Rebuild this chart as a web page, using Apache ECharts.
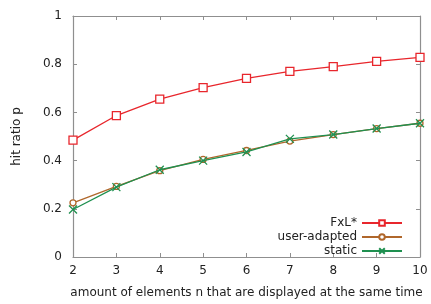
<!DOCTYPE html>
<html><head><meta charset="utf-8">
<script src="https://cdn.jsdelivr.net/npm/echarts@6/dist/echarts.min.js"></script>
<style>html,body{margin:0;padding:0;background:#fff}#c{width:431px;height:304px}</style>
</head><body><div id="c"></div>
<script>
const xValues = [2, 3, 4, 5, 6, 7, 8, 9, 10];
const fxl = [0.485, 0.587, 0.655, 0.703, 0.741, 0.770, 0.790, 0.812, 0.828];
const userAdapted = [0.225, 0.293, 0.358, 0.405, 0.442, 0.481, 0.508, 0.533, 0.555];
const staticVals = [0.197, 0.290, 0.362, 0.400, 0.436, 0.490, 0.508, 0.533, 0.555];
const seriesNames = ['FxL*', 'user-adapted', 'static'];
const colors = ['#e8262c', '#b0672b', '#1f9050'];

const pair = v => xValues.map((x, i) => [x, v[i]]);
const font = 'DejaVu Sans';
const gray = '#8f8f8f';
const txt = '#222';

const crossPath = 'path://M0,0L10,10M10,0L0,10';

function axisCommon(extra) {
  return Object.assign({
    axisLine: { show: true, onZero: false, lineStyle: { color: gray, width: 1.2 } },
    axisTick: { show: true, inside: true, length: 4, lineStyle: { color: gray } },
    splitLine: { show: false },
    axisLabel: { fontFamily: font, fontSize: 12, color: txt }
  }, extra);
}

const chart = echarts.init(document.getElementById('c'), null, { renderer: 'canvas' });
const legendRows = [217, 231, 245];
chart.setOption({
  animation: false,
  grid: { left: 73, right: 11, top: 16, bottom: 46 },
  xAxis: [
    axisCommon({ type: 'value', min: 2, max: 10, interval: 1, position: 'bottom',
      axisLabel: { fontFamily: font, fontSize: 12, color: txt, margin: 8 },
      name: 'amount of elements n that are displayed at the same time',
      nameLocation: 'middle', nameGap: 30,
      nameTextStyle: { fontFamily: font, fontSize: 12, color: txt } }),
    axisCommon({ type: 'value', min: 2, max: 10, interval: 1, position: 'top',
      axisLabel: { show: false } })
  ],
  yAxis: [
    axisCommon({ type: 'value', min: 0, max: 1, interval: 0.2, position: 'left',
      axisLabel: { fontFamily: font, fontSize: 12, color: txt, margin: 11,
        formatter: v => (Math.round(v * 10) / 10).toString() },
      name: 'hit ratio p', nameLocation: 'middle', nameGap: 50,
      nameTextStyle: { fontFamily: font, fontSize: 12, color: txt } }),
    axisCommon({ type: 'value', min: 0, max: 1, interval: 0.2, position: 'right',
      axisLabel: { show: false } })
  ],
  legend: seriesNames.map((n, i) => ({
    data: [n], right: 28, top: legendRows[i], orient: 'vertical', align: 'right',
    padding: 0, itemWidth: 40, itemHeight: 7, itemGap: 0,
    textStyle: { fontFamily: font, fontSize: 12, color: txt }
  })),
  series: [
    { name: seriesNames[0], type: 'line', data: pair(fxl), symbol: 'rect', symbolSize: 8,
      lineStyle: { color: colors[0], width: 1.3 },
      itemStyle: { color: '#fff', borderColor: colors[0], borderWidth: 1.3 }, z: 2 },
    { name: seriesNames[1], type: 'line', data: pair(userAdapted), symbol: 'circle', symbolSize: 6,
      lineStyle: { color: colors[1], width: 1.3 },
      itemStyle: { color: '#fff', borderColor: colors[1], borderWidth: 1.3 }, z: 3 },
    { name: seriesNames[2], type: 'line', data: pair(staticVals), symbol: crossPath, symbolSize: 8,
      lineStyle: { color: colors[2], width: 1.3 },
      itemStyle: { color: 'none', borderColor: colors[2], borderWidth: 1.3 }, z: 4 }
  ]
});
</script></body></html>
